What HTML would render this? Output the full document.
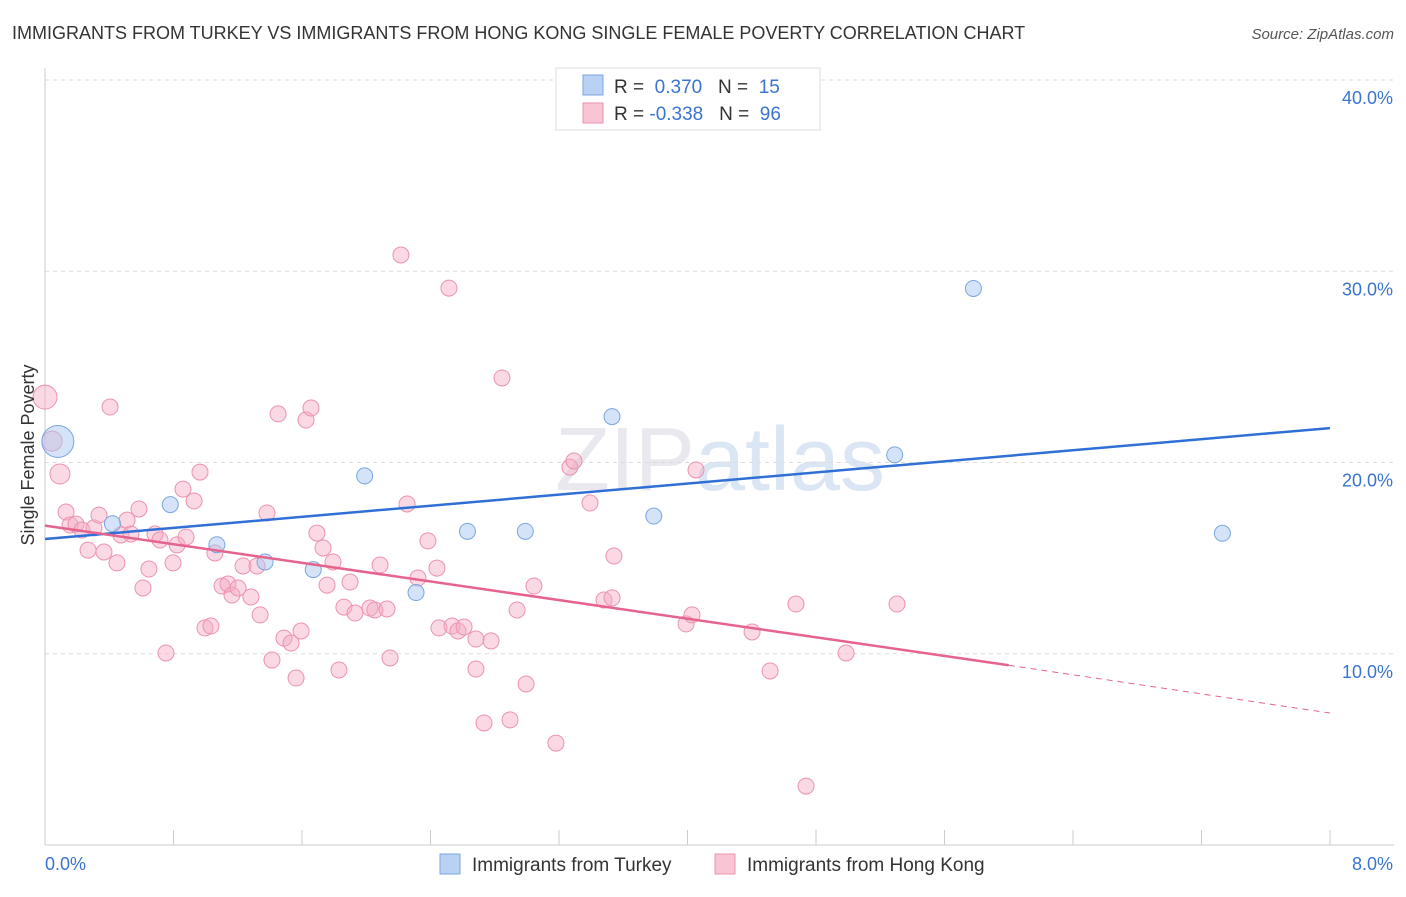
<!DOCTYPE html>
<html><head><meta charset="utf-8"><style>
body{margin:0;background:#fff;font-family:"Liberation Sans",sans-serif;}
svg text{font-family:"Liberation Sans",sans-serif;}
</style></head><body>
<svg id="chart" width="1406" height="892" xmlns="http://www.w3.org/2000/svg">
<text x="12" y="39" font-size="18" fill="#333">IMMIGRANTS FROM TURKEY VS IMMIGRANTS FROM HONG KONG SINGLE FEMALE POVERTY CORRELATION CHART</text>
<text x="1394" y="39" font-size="15" fill="#555" text-anchor="end" font-style="italic">Source: ZipAtlas.com</text>
<text x="720" y="490" font-size="90" fill="#e8e8ee" text-anchor="middle" font-family="Liberation Serif">ZIP<tspan fill="#dbe6f4" font-family="Liberation Sans">atlas</tspan></text>
<g id="grid"></g>
<g id="axes"></g>
<g id="pink"></g>
<g id="blue"></g>
<g id="trends"></g>
<text transform="translate(34,455) rotate(-90)" font-size="18" fill="#333" text-anchor="middle">Single Female Poverty</text>
<g>
<rect x="556" y="68" width="264" height="62" fill="#fff" stroke="#ddd"/>
<rect x="583" y="75" width="20" height="20" fill="#b9d2f3" stroke="#7aa6e0"/>
<rect x="583" y="103" width="20" height="20" fill="#f9c4d4" stroke="#eb93ad"/>
<text x="614" y="93" font-size="19" fill="#333">R = <tspan fill="#3a74d0">&#160;0.370</tspan>&#160;&#160;&#160;N = <tspan fill="#3a74d0">&#160;15</tspan></text>
<text x="614" y="120" font-size="19" fill="#333">R = <tspan fill="#3a74d0">-0.338</tspan>&#160;&#160;&#160;N = <tspan fill="#3a74d0">&#160;96</tspan></text>
</g>
<g>
<rect x="440" y="854" width="20" height="20" fill="#b9d2f3" stroke="#7aa6e0"/>
<text x="472" y="871" font-size="19" fill="#333">Immigrants from Turkey</text>
<rect x="715" y="854" width="20" height="20" fill="#f9c4d4" stroke="#eb93ad"/>
<text x="747" y="871" font-size="19" fill="#333">Immigrants from Hong Kong</text>
</g>
</svg>
<script>
const yTicks=[10,20,30,40];
const yTickLabels=["10.0%","20.0%","30.0%","40.0%"];
const xTickLabels=["0.0%","8.0%"];
const turkeyX=[0.08,0.42,0.78,1.07,1.37,1.67,1.99,2.31,2.63,2.99,3.53,3.79,5.29,5.78,7.33];
const turkeyY=[21.1,16.8,17.8,15.7,14.8,14.4,19.3,13.2,16.4,16.4,22.4,17.2,20.4,29.1,16.3];
const turkeySize=[16,8,8,8,8,8,8,8,8,8,8,8,8,8,8];
const hkPx=[45,52,60,66,70,76,82,88,94,99,104,110,117,121,127,131,139,143,149,155,160,166,173,177,183,186,194,200,205,211,215,222,228,232,238,243,251,257,260,267,272,278,284,291,296,301,306,311,317,323,327,333,339,344,350,355,370,375,380,387,390,401,407,418,428,437,439,449,452,458,464,476,476,484,491,502,510,517,526,534,556,570,574,590,604,612,614,686,692,696,752,770,796,806,846,897];
const hkPy=[397,441,474,512,525,524,530,550,528,515,552,407,563,535,520,534,509,588,569,534,540,653,563,545,489,537,501,472,628,626,553,586,584,595,588,566,597,566,615,513,660,414,638,643,678,631,420,408,533,548,585,562,670,607,582,613,608,610,565,609,658,255,504,578,541,568,628,288,626,631,627,639,669,723,641,378,720,610,684,586,743,467,461,503,600,598,556,624,615,470,632,671,604,786,653,604];
// convert read pixel estimates into data values
const hkX=hkPx.map(p=>+((p-45)/160.625).toFixed(3));
const hkY=hkPy.map(p=>+((845-p)/19.125).toFixed(2));
const hkSize=hkX.map((v,i)=>i===0?12:(i===1||i===2?10:8));
const turkeyTrend=[16.0,21.8];
const hkTrend=[16.7,9.4,6.9];
const NS="http://www.w3.org/2000/svg";
const X=v=>45+v/8*1285, Y=v=>845-v*19.125;
function mk(parent,tag,attrs){const e=document.createElementNS(NS,tag);for(const k in attrs)e.setAttribute(k,attrs[k]);document.getElementById(parent).appendChild(e);return e;}
yTicks.forEach((t,i)=>{
 const l=mk('grid','line',{x1:45,x2:1394,y1:Y(t),y2:Y(t),stroke:'#ddd','stroke-dasharray':'4,4'});
 
 
 const tx=mk('grid','text',{x:1393,y:Y(t)+24,'font-size':18,fill:'#3a74d0','text-anchor':'end'});tx.textContent=yTickLabels[i];
 
 
});
mk('axes','line',{x1:45,x2:45,y1:68,y2:845,stroke:'#ccc'});
mk('axes','line',{x1:45,x2:1394,y1:845,y2:845,stroke:'#ccc'});
for(let i=0;i<=10;i++){mk('axes','line',{x1:X(i*0.8),x2:X(i*0.8),y1:830,y2:845,stroke:'#ccc'});}
const xl0=mk('axes','text',{x:45,y:870,'font-size':18,fill:'#3a74d0'});xl0.textContent=xTickLabels[0];


const xl1=mk('axes','text',{x:1393,y:870,'font-size':18,fill:'#3a74d0','text-anchor':'end'});xl1.textContent=xTickLabels[1];


hkX.forEach((v,i)=>{const c=mk('pink','circle',{cx:X(v),cy:Y(hkY[i]),r:hkSize[i],fill:'rgba(245,170,195,0.45)',stroke:'#eb93ad','stroke-width':1});
 
 });
turkeyX.forEach((v,i)=>{const c=mk('blue','circle',{cx:X(v),cy:Y(turkeyY[i]),r:turkeySize[i],fill:'rgba(170,200,240,0.5)',stroke:'#7aa6e0','stroke-width':1});
 
 });
const tl=mk('trends','line',{x1:X(0),y1:Y(turkeyTrend[0]),x2:X(8),y2:Y(turkeyTrend[1]),stroke:'#2f6fd6','stroke-width':2.5});


const hl=mk('trends','line',{x1:X(0),y1:Y(hkTrend[0]),x2:X(6),y2:Y(hkTrend[1]),stroke:'#e5638c','stroke-width':2.5});


const hd=mk('trends','line',{x1:X(6),y1:Y(hkTrend[1]),x2:X(8),y2:Y(hkTrend[2]),stroke:'#e5638c','stroke-width':1,'stroke-dasharray':'6,5'});


</script>
</body></html>
